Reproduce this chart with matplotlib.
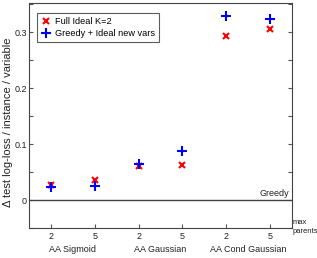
import numpy as np
import matplotlib.pyplot as plt

plt.rcParams['font.family'] = ['Liberation Sans', 'DejaVu Sans']

# data
max_parents = ['2', '5', '2', '5', '2', '5']
groups = ['AA Sigmoid', 'AA Gaussian', 'AA Cond Gaussian']
full_ideal = [0.027, 0.036, 0.061, 0.062, 0.293, 0.306]
greedy_ideal = [0.024, 0.026, 0.065, 0.087, 0.329, 0.324]

x = np.arange(1, len(max_parents) + 1)

fig = plt.figure(figsize=(3.17, 2.58), dpi=100)
ax = fig.add_axes([0.0915, 0.116, 0.83, 0.872])

ax.plot(x, full_ideal, 'x', color='red', markersize=4.5, mew=1.5, label='Full Ideal K=2')
ax.plot(x, greedy_ideal, '+', color='blue', markersize=6.5, mew=1.5, label='Greedy + Ideal new vars')
ax.axhline(0, color='#444444', lw=1)
ax.text(6.43, 0.003, 'Greedy', ha='right', va='bottom', fontsize=6.5, color='#222222')

ax.set_xlim(0.5, 6.5)
ax.set_ylim(-0.05, 0.352)
ax.set_xticks(x)
ax.set_xticklabels(max_parents, fontsize=6.5)
yt = np.arange(-0.05, 0.351, 0.05)
ax.set_yticks(yt)
ax.set_yticklabels(['' if round(v * 100) % 10 else ('0' if abs(v) < 1e-9 else '%.1f' % v)
                    for v in yt], fontsize=6.5)
ax.tick_params(direction='in', length=3, color='#555555', right=True,
               labelcolor='#222222')
ax.tick_params(axis='y', pad=1.5)
ax.tick_params(axis='x', pad=3)
for s in ax.spines.values():
    s.set_color('#444444')

for i, g in enumerate(groups):
    ax.text(2 * i + 1.5, -0.089, g, ha='center', va='center', fontsize=6.5, color='#222222')
ax.text(6.5, -0.034, 'max\nparents', ha='left', va='top', fontsize=5.5, color='#222222',
        linespacing=1.3, clip_on=False)

ax.set_ylabel('Δ test log-loss / instance / variable', fontsize=8, color='#222222')
ax.yaxis.set_label_coords(-0.062, 0.47)

leg = ax.legend(loc='upper left', fontsize=6.6, fancybox=False, edgecolor='#333333',
                handletextpad=0.5, borderpad=0.45, labelspacing=0.35, handlelength=1.0,
                bbox_to_anchor=(0.03, 0.956), borderaxespad=0)
leg.get_frame().set_linewidth(0.8)

fig.savefig('out.png', dpi=100)
